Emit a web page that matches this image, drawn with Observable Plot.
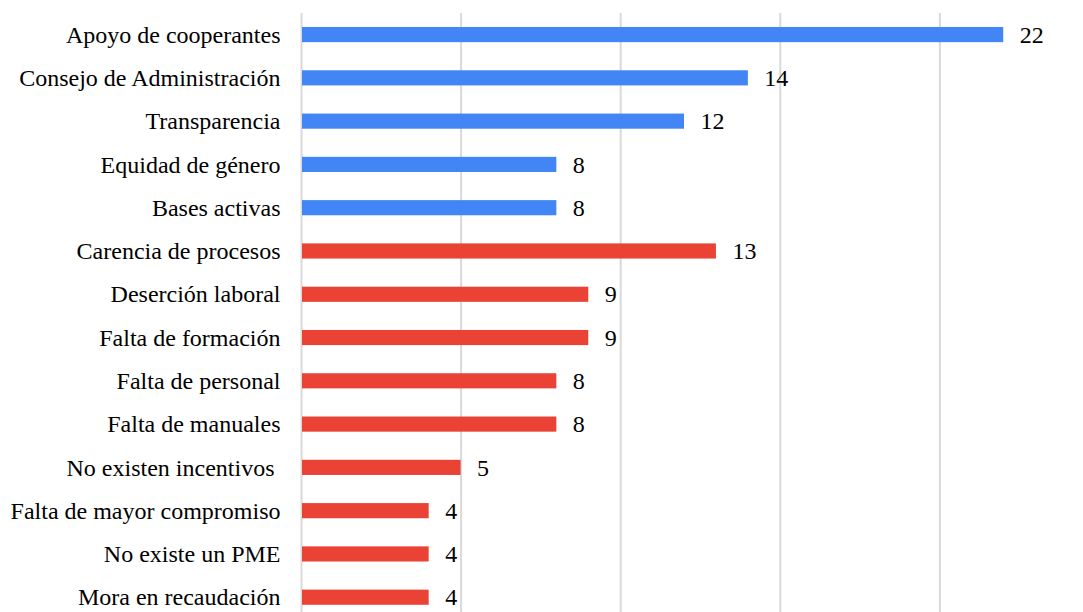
<!DOCTYPE html>
<html>
<head>
<meta charset="utf-8">
<script src="https://cdn.jsdelivr.net/npm/d3@7"></script>
<script src="https://cdn.jsdelivr.net/npm/@observablehq/plot@0.6"></script>
<style>
  html, body { margin: 0; padding: 0; background: #fff; }
  #chart svg { display: block; }
</style>
</head>
<body>
<div id="chart"></div>
<script>
const categories = [
  "Apoyo de cooperantes",
  "Consejo de Administración",
  "Transparencia",
  "Equidad de género",
  "Bases activas",
  "Carencia de procesos",
  "Deserción laboral",
  "Falta de formación",
  "Falta de personal",
  "Falta de manuales",
  "No existen incentivos ",
  "Falta de mayor compromiso",
  "No existe un PME",
  "Mora en recaudación"
];
const values = [22, 14, 12, 8, 8, 13, 9, 9, 8, 8, 5, 4, 4, 4];
const groups = ["Fortaleza","Fortaleza","Fortaleza","Fortaleza","Fortaleza",
  "Debilidad","Debilidad","Debilidad","Debilidad","Debilidad","Debilidad","Debilidad","Debilidad","Debilidad"];
const groupNames = ["Fortaleza", "Debilidad"];
const groupColors = ["#4285F4", "#EA4335"];
const gridTicks = [0, 5, 10, 15, 20];

const data = categories.map((c, i) => ({category: c, value: values[i], group: groups[i]}));
const font = "Liberation Serif, Times New Roman, serif";

const chart = Plot.plot({
  width: 1083,
  height: 612,
  marginLeft: 301,
  marginRight: 0,
  marginTop: 13,
  marginBottom: 0,
  style: {fontFamily: font, fontSize: "24px", color: "#000", background: "#fff"},
  x: {domain: [0, 24.5], axis: null},
  y: {domain: categories, paddingInner: 0.65, paddingOuter: 0.245, align: 0.66, round: false, label: null},
  color: {domain: groupNames, range: groupColors},
  marks: [
    Plot.gridX(gridTicks, {stroke: "#d9d9d9", strokeOpacity: 1, strokeWidth: 2}),
    Plot.barX(data, {x: "value", y: "category", fill: "group", insetLeft: 1}),
    Plot.text(data, {x: "value", y: "category", text: d => String(d.value), textAnchor: "start", dx: 16, fontSize: 24, fontFamily: font, fill: "#000"}),
    Plot.axisY({tickSize: 0, tickPadding: 21, fontSize: 24, fontFamily: font, label: null})
  ]
});
document.getElementById("chart").appendChild(chart);
</script>
</body>
</html>
